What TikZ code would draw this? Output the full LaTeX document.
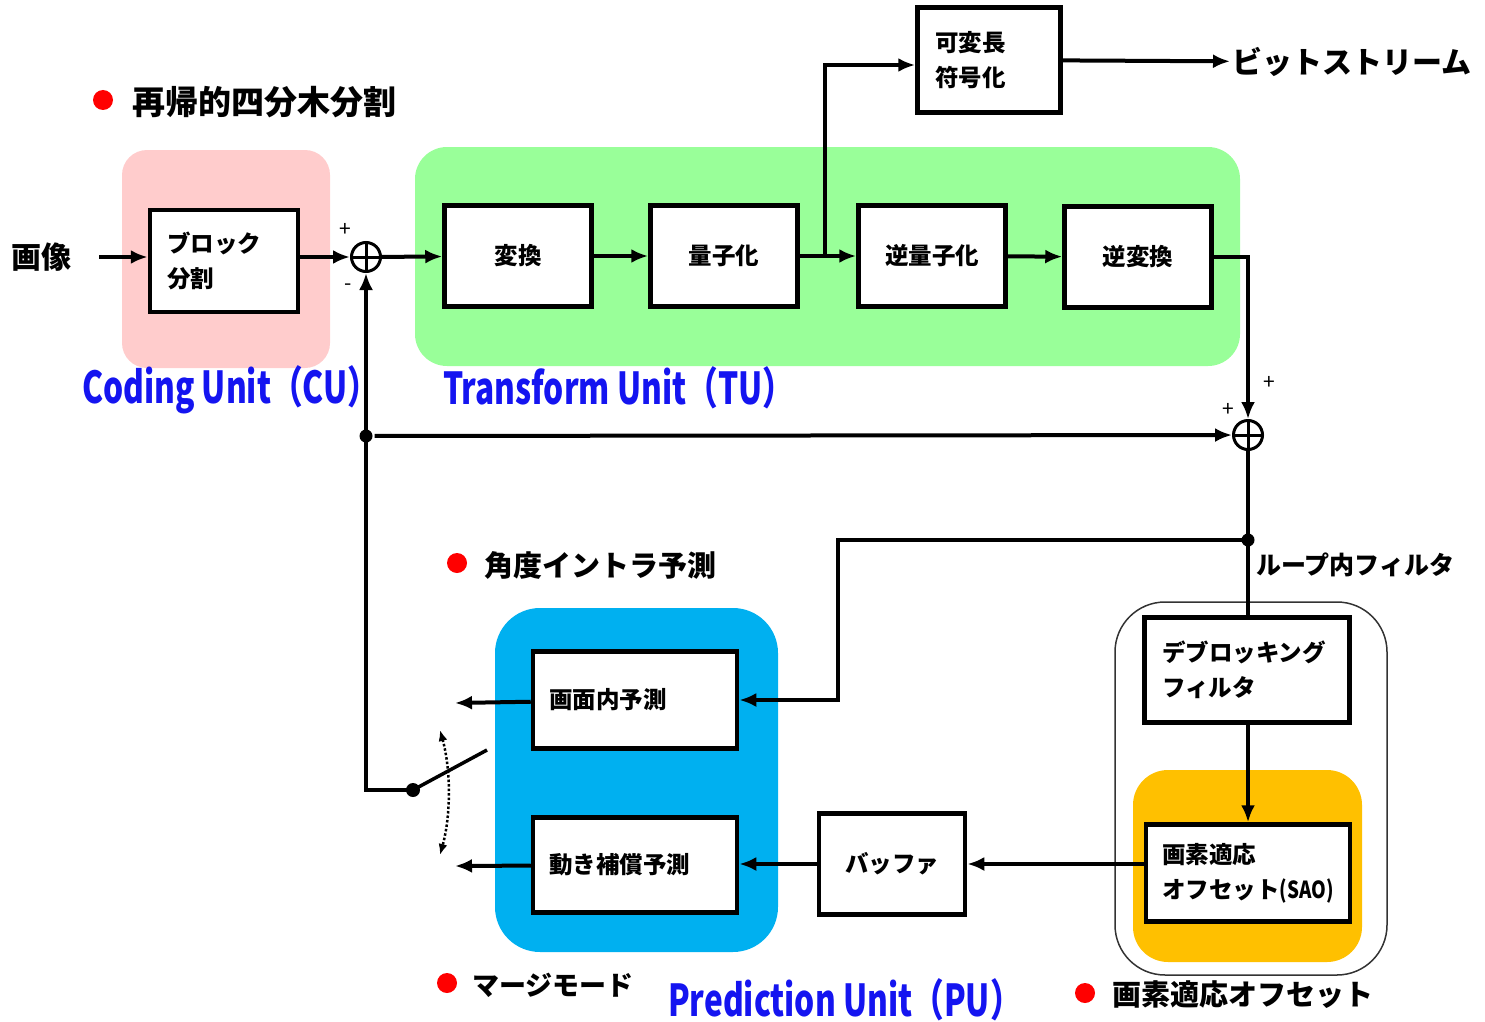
\documentclass[tikz,border=0pt]{standalone}
\usepackage{fontspec}
\setmainfont{Noto Sans CJK JP}
\usetikzlibrary{arrows.meta}
\newcommand{\boxfnt}{\fontsize{23.5}{35}\selectfont\bfseries}
\newcommand{\unitfnt}[1]{\scalebox{0.72}[1]{\fontsize{44}{44}\selectfont\bfseries #1}}
\begin{document}
\begin{tikzpicture}[x=1pt,y=-1pt,line width=4pt,
		>={Latex[length=17pt,width=14pt]},
		blk/.style={draw,line width=4.5pt,fill=white,inner sep=0,font=\boxfnt},
		blkl/.style={blk,align=left},
		zone/.style={rounded corners=#1,draw=none},
		sum/.style={circle,draw,line width=3pt,minimum size=29pt,inner sep=0,
			path picture={\draw[line width=3pt] (path picture bounding box.north) -- (path picture bounding box.south)
				(path picture bounding box.west) -- (path picture bounding box.east);}},
		dot/.style={circle,fill,inner sep=0,minimum size=13pt},
		bullet/.style={circle,fill=red,inner sep=0,minimum size=20pt},
		pm/.style={font=\fontsize{21}{21}\selectfont},
		unit/.style={text={rgb,255:red,20;green,20;blue,240},anchor=west,inner sep=0}]
	\useasboundingbox (0,0) rectangle (1485,1022);
	% coloured areas
	\fill[zone=25pt,fill={rgb,255:red,255;green,204;blue,204}] (122,150) rectangle (330,368);
	\fill[zone=32pt,fill={rgb,255:red,153;green,255;blue,153}] (415,147) rectangle (1240,366);
	\fill[zone=45pt,fill={rgb,255:red,0;green,176;blue,240}] (495,608) rectangle (778,952);
	\draw[line width=1.5pt,rounded corners=50pt,draw=black!80] (1115,602) rectangle (1387,975);
	\fill[zone=35pt,fill={rgb,255:red,255;green,192;blue,0}] (1133,770) rectangle (1362,962);
	% blocks
	\node[font=\fontsize{30}{30}\selectfont\bfseries] (img) at (42,257) {画像};
	\node[blkl,minimum width=148pt,minimum height=102pt,text width=114pt] (blkA) at (224,261) {ブロック\\分割};
	\node[sum] (sumA) at (366,257) {};
	\node[blk,minimum width=147pt,minimum height=101pt] (trans) at (518,256) {変換};
	\node[blk,minimum width=147pt,minimum height=101pt] (quant) at (724,256) {量子化};
	\node[blk,minimum width=147pt,minimum height=101pt] (iquant) at (932,256) {逆量子化};
	\node[blk,minimum width=147pt,minimum height=101pt] (itrans) at (1138,257) {逆変換};
	\node[blkl,minimum width=143pt,minimum height=105pt,text width=108pt] (vlc) at (989,60) {可変長\\符号化};
	\node[font=\fontsize{30}{30}\selectfont\bfseries,anchor=west,inner sep=0] (bits) at (1230,62) {ビットストリーム};
	\node[sum] (sumB) at (1248,435) {};
	\node[blkl,minimum width=205pt,minimum height=105pt,text width=170pt] (dbf) at (1247,670) {デブロッキング\\フィルタ};
	\node[blkl,minimum width=204pt,minimum height=97pt,text width=172pt] (sao) at (1248,873) {画素適応\\オフセット\scalebox{0.8}[1]{(SAO)}};
	\node[blk,minimum width=146pt,minimum height=101pt] (buf) at (892,864) {バッファ};
	\node[blkl,minimum width=204pt,minimum height=97pt,text width=172pt] (intra) at (635,700) {画面内予測};
	\node[blkl,minimum width=204pt,minimum height=95pt,text width=172pt] (inter) at (635,865) {動き補償予測};
	% taps and free ends
	\node[dot] (tapA) at (366,436) {};
	\node[dot] (tapB) at (1248,540) {};
	\node[dot,minimum size=14pt] (sw) at (413,790) {};
	\coordinate (br) at (825,257);
	\coordinate (loopc) at (838,540);
	\coordinate (outA) at (455,703);
	\coordinate (outB) at (455,866);
	\coordinate (swEnd) at (487,750);
	% connectors
	\draw[->,shorten <=22pt] (img) -- (blkA.west |- img);
	\draw[->] (blkA.east |- sumA) -- (sumA);
	\draw[->] (sumA) -- (trans);
	\draw[->] (trans) -- (quant);
	\draw[->] (quant) -- (iquant);
	\draw[->] (iquant) -- (itrans);
	\draw[->] (br) |- ([yshift=-5pt]vlc.west);
	\draw[->] (vlc) -- (bits);
	\draw[->] (itrans.east) -| (sumB.north);
	\draw[->] (sw.center) -| (sumA.south);
	\draw[->] (tapA) -- (sumB);
	\draw (sumB) -- (sumB |- dbf.north);
	\draw[->] (tapB.center) -- (loopc) |- (intra.east);
	\draw[->] (sumB |- dbf.south) -- (sumB |- sao.north);
	\draw[->] (sao.west |- buf) -- (buf);
	\draw[->] (buf) -- (buf -| inter.east);
	\draw[->] (intra) -- (outA);
	\draw[->] (inter) -- (outB);
	\draw[line width=3.5pt] (sw.center) -- (swEnd);
	\draw[<->,dotted,line width=2.5pt,>={Latex[length=11pt,width=9pt]}]
		(440,730) .. controls (451,770) and (451,815) .. (440,855);
	% signs
	\node[pm] (pA) at (345,230) {+};
	\node[pm] (mA) at (348,287) {-};
	\node[pm] (pB) at (1269,383) {+};
	\node[pm] (pC) at (1228,410) {+};
	\node[font=\fontsize{25}{25}\selectfont\bfseries,anchor=west,inner sep=0] (loopf) at (1254,565) {ループ内フィルタ};
	% headings
	\node[bullet] (dA) at (103,100) {};
	\node[font=\fontsize{33}{33}\selectfont\bfseries,anchor=west,inner sep=0] (hA) at (130,102) {再帰的四分木分割};
	\node[bullet] (dB) at (457,563) {};
	\node[font=\fontsize{29}{29}\selectfont\bfseries,anchor=west,inner sep=0] (hB) at (482,565) {角度イントラ予測};
	\node[bullet] (dC) at (447,983) {};
	\node[font=\fontsize{27}{27}\selectfont\bfseries,anchor=west,inner sep=0] (hC) at (470,985) {マージモード};
	\node[bullet] (dD) at (1085,993) {};
	\node[font=\fontsize{29}{29}\selectfont\bfseries,anchor=west,inner sep=0] (hD) at (1110,995) {画素適応オフセット};
	% unit labels
	\node[unit] (cu) at (80,390) {\unitfnt{Coding Unit（CU）}};
	\node[unit] (tu) at (441,388) {\unitfnt{Transform Unit（TU）}};
	\node[unit] (pu) at (666,1000) {\unitfnt{Prediction Unit（PU）}};
\end{tikzpicture}
\end{document}
